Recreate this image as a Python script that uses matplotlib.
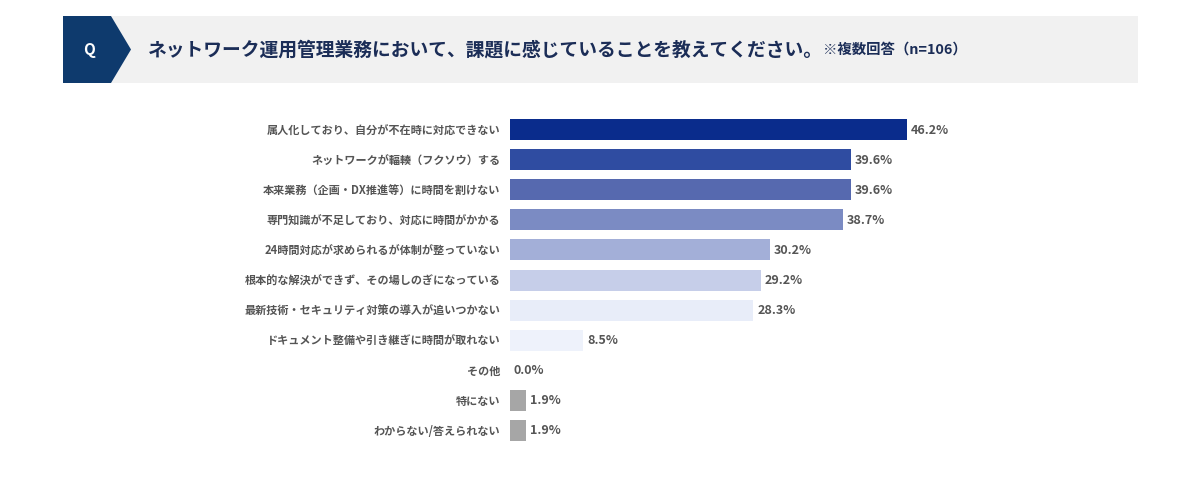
import matplotlib.pyplot as plt
from matplotlib.patches import Polygon, Rectangle

plt.rcParams['font.family'] = ['Noto Sans CJK JP', 'DejaVu Sans']

# data
labels = [
    '属人化しており、自分が不在時に対応できない',
    'ネットワークが輻輳（フクソウ）する',
    '本来業務（企画・DX推進等）に時間を割けない',
    '専門知識が不足しており、対応に時間がかかる',
    '24時間対応が求められるが体制が整っていない',
    '根本的な解決ができず、その場しのぎになっている',
    '最新技術・セキュリティ対策の導入が追いつかない',
    'ドキュメント整備や引き継ぎに時間が取れない',
    'その他',
    '特にない',
    'わからない/答えられない',
]
values = [46.2, 39.6, 39.6, 38.7, 30.2, 29.2, 28.3, 8.5, 0.0, 1.9, 1.9]
colors = ['#0a2c8c', '#2f4ca1', '#5669af', '#7b8bc3', '#a3afd8', '#c6cee9',
          '#e8edf9', '#eef2fb', '#a6a6a6', '#a6a6a6', '#a6a6a6']

title = 'ネットワーク運用管理業務において、課題に感じていることを教えてください。'
note = '※複数回答（n=106）'

W, H = 1200, 486
fig = plt.figure(figsize=(W / 100, H / 100), dpi=100)
fig.patch.set_facecolor('white')

# header band
fig.patches.append(Rectangle((63 / W, 1 - 83 / H), (1138 - 63) / W, 67 / H,
                             transform=fig.transFigure, facecolor='#f1f1f1',
                             edgecolor='none'))
pent = [(63, 16), (111, 16), (131, 49.5), (111, 83), (63, 83)]
fig.patches.append(Polygon([(x / W, 1 - y / H) for x, y in pent], closed=True,
                           transform=fig.transFigure, facecolor='#0e3a6d',
                           edgecolor='none'))
fig.text(89 / W, 1 - 50 / H, 'Q', color='white', fontsize=11, fontweight='bold',
         ha='center', va='center')
fig.text(148 / W, 1 - 50 / H, title, color='#1b2d57', fontsize=13.5,
         fontweight='bold', ha='left', va='center')
fig.text(823 / W, 1 - 50 / H, note, color='#1b2d57', fontsize=10.4,
         fontweight='bold', ha='left', va='center')

# bars
ax = fig.add_axes([510 / W, 1 - 445 / H, 600 / W, 330 / H])
px = 8.6
ax.set_xlim(0, 600 / px)
ax.set_ylim(len(values) - 0.5, -0.5)
y = list(range(len(values)))
ax.barh(y, values, height=0.7, color=colors, edgecolor='none')
for i, v in enumerate(values):
    ax.text(v + 0.45, i, f'{v:.1f}%', va='center', ha='left', fontsize=9,
            fontweight='bold', color='#555555')

ax.set_yticks(y)
ax.set_yticklabels(labels, fontsize=8.0, fontweight='bold', color='#555555')
ax.tick_params(axis='y', length=0, pad=7)
ax.set_xticks([])
for s in ax.spines.values():
    s.set_visible(False)
ax.patch.set_alpha(0)

fig.savefig('out.png', dpi=100, facecolor='white')
